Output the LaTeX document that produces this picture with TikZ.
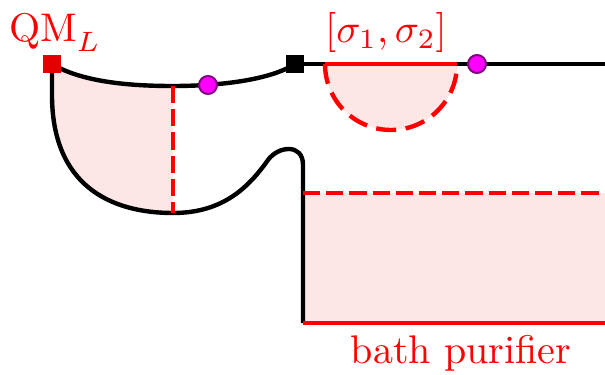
\documentclass[tikz,border=0pt]{standalone}
\definecolor{dotfill}{RGB}{255,0,255}
\definecolor{dotedge}{RGB}{128,0,128}
\definecolor{pink}{RGB}{253,230,230}
\begin{document}
\begin{tikzpicture}[x=0.25pt,y=-0.25pt,
  curve/.style={line width=1.1pt,black},
  redline/.style={line width=1.1pt,red},
  reddash/.style={line width=1.1pt,red,dash pattern=on 4.3pt off 1.5pt},
  arcdash/.style={line width=1.1pt,red,dash pattern=on 5pt off 2.4pt},
  sq/.style={rectangle,minimum size=4.4pt,inner sep=0pt},
  dot/.style={circle,fill=dotfill,draw=dotedge,line width=0.5pt,minimum size=4.5pt,inner sep=0pt},
  lbl/.style={text=red,inner sep=0pt}]
\useasboundingbox (0,0) rectangle (605,374);
% coordinates
\coordinate (qmlc) at (52,64);
\coordinate (bsqc) at (295,64);
\coordinate (mid) at (173,86);
\coordinate (bot) at (173,213);
\coordinate (wallT) at (303,165);
\coordinate (wallB) at (303,323);
\coordinate (dashR) at (605,193);
\coordinate (dashL) at (303,193);
\coordinate (baseR) at (605,323);
\coordinate (topR) at (605,64);
\coordinate (sL) at (325,64);
\coordinate (sR) at (457,64);
% fills
\fill[pink] (qmlc) -- (52,95) .. controls (52,185) and (110,213) .. (bot) -- (mid) .. controls (140,86) and (85,84) .. (qmlc) -- cycle;
\fill[pink] (dashL) rectangle (baseR);
\fill[pink] (sL) arc[start angle=180,end angle=0,radius=66] -- cycle;
% black curves
\draw[curve] (qmlc) .. controls (85,84) and (140,86) .. (mid) .. controls (220,86) and (270,80) .. (bsqc);
\draw[curve] (qmlc) -- (52,95) .. controls (52,185) and (110,213) .. (bot) .. controls (225,213) and (250,185) .. (268,160) .. controls (278,146) and (303,143) .. (wallT) -- (wallB);
\draw[curve] (bsqc) -- (topR);
% red lines
\draw[reddash] (mid) -- (bot);
\draw[reddash] (dashL) -- (dashR);
\draw[redline] (wallB) -- (baseR);
\draw[redline] (sL) -- (sR);
\draw[arcdash] (sL) arc[start angle=180,end angle=0,radius=66];
% nodes
\node[sq,fill=red!90!black] (qml) at (qmlc) {};
\node[sq,fill=black] (bsq) at (bsqc) {};
\node[dot] (d1) at (208,85) {};
\node[dot] (d2) at (477,64) {};
\node[lbl] (lqml) at (55,33) {$\mathrm{QM}_L$};
\node[lbl] (lsig) at (386,33) {$[\sigma_1,\sigma_2]$};
\node[lbl,anchor=base] (lbath) at (461,363) {bath purifier};
\end{tikzpicture}
\end{document}
